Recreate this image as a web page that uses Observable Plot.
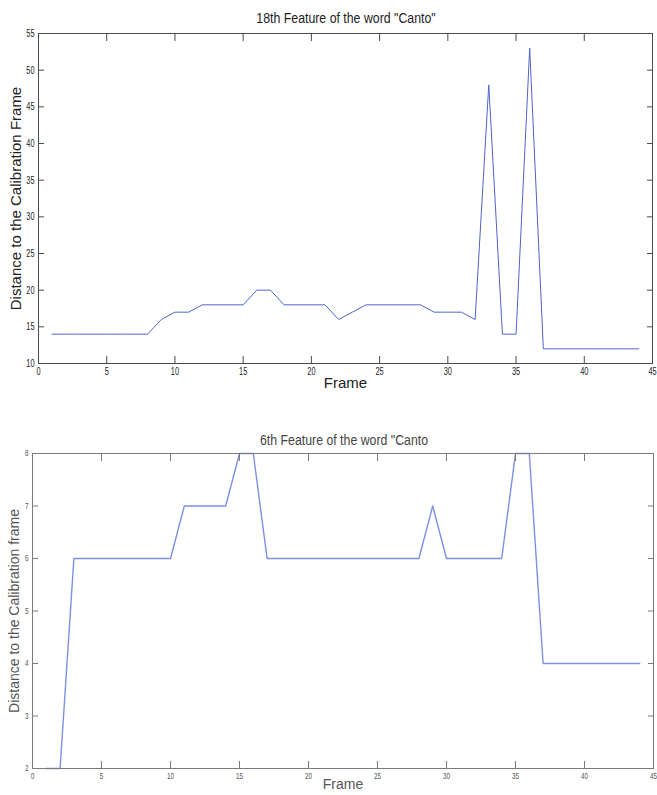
<!DOCTYPE html>
<html>
<head>
<meta charset="utf-8">
<script src="https://cdn.jsdelivr.net/npm/d3@7"></script>
<script src="https://cdn.jsdelivr.net/npm/@observablehq/plot@0.6"></script>
<style>
  body { margin: 0; background: #fff; }
  #wrap { position: relative; width: 657px; height: 795px; overflow: hidden; background: #fff; }
  .title { position: absolute; text-align: center; font-family: "Liberation Sans", Arial, sans-serif; white-space: nowrap; transform: translateX(-50%) scaleX(0.88); }
  #c1, #c2 { position: absolute; left: 0; }
  #c1 { top: 0; }
  #c2 { top: 395px; }
</style>
</head>
<body>
<div id="wrap">
  <div id="c1"></div>
  <div id="c2"></div>
  <div class="title" id="t1" style="left:346px; top:10px; font-size:14px; color:#222;">18th Feature of the word "Canto"</div>
  <div class="title" id="t2" style="left:344px; top:432px; font-size:14px; color:#444;">6th Feature of the word "Canto</div>
</div>
<script>
// ---- Data: 18th feature ----
const frames18 = [1,2,3,4,5,6,7,8,9,10,11,12,13,14,15,16,17,18,19,20,21,22,23,24,25,26,27,28,29,30,31,32,33,34,35,36,37,38,39,40,41,42,43,44];
const values18 = [14,14,14,14,14,14,14,14,16,17,17,18,18,18,18,20,20,18,18,18,18,16,17,18,18,18,18,18,17,17,17,16,48,14,14,53,12,12,12,12,12,12,12,12];
const xTicks18 = [0,5,10,15,20,25,30,35,40,45];
const yTicks18 = [10,15,20,25,30,35,40,45,50,55];
const ylabel18 = 'Distance to the Calibration Frame';

// ---- Data: 6th feature ----
const frames6 = [1,2,3,4,5,6,7,8,9,10,11,12,13,14,15,16,17,18,19,20,21,22,23,24,25,26,27,28,29,30,31,32,33,34,35,36,37,38,39,40,41,42,43,44];
const values6 = [2,2,6,6,6,6,6,6,6,6,7,7,7,7,8,8,6,6,6,6,6,6,6,6,6,6,6,6,7,6,6,6,6,6,8,8,4,4,4,4,4,4,4,4];
const xTicks6 = [0,5,10,15,20,25,30,35,40,45];
const yTicks6 = [2,3,4,5,6,7,8];
const ylabel6 = 'Distance to the Calibration frame';

const xLabel = 'Frame';
const sans = '"Liberation Sans", Arial, sans-serif';

function chart({frames, values, xTicks, yTicks, yDomain, ylabel, height, mt, mb, ml, mr,
                axisColor, textColor, lineColor, lineWidth, tickFont, labelFont, xLabelDy, yLabelDx, tickLen}) {
  const data = frames.map((f, i) => ({frame: f, value: values[i]}));
  const empty = () => "";
  return Plot.plot({
    width: 657,
    height,
    marginTop: mt, marginBottom: mb, marginLeft: ml, marginRight: mr,
    style: {fontFamily: sans, background: "#fff", overflow: "visible"},
    x: {domain: [0, 45], ticks: xTicks},
    y: {domain: yDomain, ticks: yTicks},
    marks: [
      Plot.line(data, {x: "frame", y: "value", stroke: lineColor, strokeWidth: lineWidth}),
      // inward ticks on all four sides
      Plot.axisX({ticks: xTicks, anchor: "bottom", tickSize: -tickLen, tickFormat: empty, label: null, stroke: axisColor}),
      Plot.axisX({ticks: xTicks, anchor: "top", tickSize: -tickLen, tickFormat: empty, label: null, stroke: axisColor}),
      Plot.axisY({ticks: yTicks, anchor: "left", tickSize: -(tickLen - 1), tickFormat: empty, label: null, stroke: axisColor}),
      Plot.axisY({ticks: yTicks, anchor: "right", tickSize: -(tickLen - 1), tickFormat: empty, label: null, stroke: axisColor}),
      // tick labels
      Plot.axisX({ticks: xTicks, anchor: "bottom", tickSize: 0, tickPadding: 4, label: null, fill: textColor, fontSize: tickFont, tickFormat: d => String(d)}),
      Plot.axisY({ticks: yTicks, anchor: "left", tickSize: 0, tickPadding: 4, label: null, fill: textColor, fontSize: tickFont, tickFormat: d => String(d)}),
      Plot.frame({stroke: axisColor, strokeWidth: 1}),
      // axis titles
      Plot.text([xLabel], {text: d => d, frameAnchor: "bottom", dy: xLabelDy, fontSize: labelFont, fill: textColor}),
      Plot.text([ylabel], {text: d => d, frameAnchor: "left", textAnchor: "middle", dx: yLabelDx, rotate: -90, fontSize: labelFont, fill: textColor})
    ]
  });
}

function narrowTicks(svg, factor) {
  d3.select(svg).selectAll('g[aria-label="x-axis tick label"] text, g[aria-label="y-axis tick label"] text')
    .each(function() {
      const w = this.getComputedTextLength();
      if (w > 0) {
        this.setAttribute("textLength", (w * factor).toFixed(2));
        this.setAttribute("lengthAdjust", "spacingAndGlyphs");
      }
    });
}

const svg1 = chart({
  frames: frames18, values: values18, xTicks: xTicks18, yTicks: yTicks18, yDomain: [10, 55],
  ylabel: ylabel18, height: 395, mt: 33, mb: 32, ml: 38, mr: 5,
  axisColor: "#4a4a4a", textColor: "#222", lineColor: "#4f63c6", lineWidth: 1,
  tickFont: 10.5, labelFont: 15, xLabelDy: 24, yLabelDx: -22, tickLen: 7
});
document.getElementById("c1").append(svg1);
narrowTicks(svg1, 0.7);

const svg2 = chart({
  frames: frames6, values: values6, xTicks: xTicks6, yTicks: yTicks6, yDomain: [2, 8],
  ylabel: ylabel6, height: 400, mt: 58, mb: 27, ml: 32, mr: 4,
  axisColor: "#7a7a7a", textColor: "#555", lineColor: "#7d8fe6", lineWidth: 1.4,
  tickFont: 9, labelFont: 14, xLabelDy: 20, yLabelDx: -18, tickLen: 7
});
document.getElementById("c2").append(svg2);
narrowTicks(svg2, 0.7);
</script>
</body>
</html>
